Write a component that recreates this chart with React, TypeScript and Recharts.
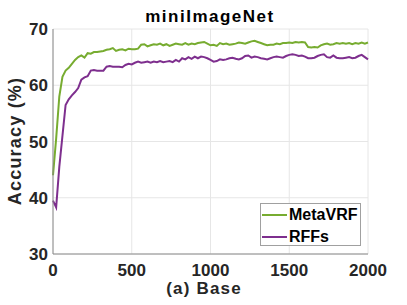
import React from 'react';
import { LineChart, Line, XAxis, YAxis, CartesianGrid } from 'recharts';

const iterations: number[] = [
  0, 20, 40, 60, 80, 100, 120, 140, 160, 180, 200, 220, 240, 260, 280, 300, 320, 340, 360, 380,
  400, 420, 440, 460, 480, 500, 520, 540, 560, 580, 600, 620, 640, 660, 680, 700, 720, 740, 760, 780,
  800, 820, 840, 860, 880, 900, 920, 940, 960, 980, 1000, 1020, 1040, 1060, 1080, 1100, 1120, 1140, 1160, 1180,
  1200, 1220, 1240, 1260, 1280, 1300, 1320, 1340, 1360, 1380, 1400, 1420, 1440, 1460, 1480, 1500, 1520, 1540, 1560, 1580,
  1600, 1620, 1640, 1660, 1680, 1700, 1720, 1740, 1760, 1780, 1800, 1820, 1840, 1860, 1880, 1900, 1920, 1940, 1960, 1980, 2000,
];

const metaVRF: number[] = [
  44.0, 50.5, 58.0, 61.5, 62.6, 63.1, 63.8, 64.5, 65.0, 65.3, 64.9, 65.7, 65.6, 65.9, 65.9, 66.0, 66.1, 66.3, 66.4, 66.6,
  66.1, 66.3, 66.4, 66.2, 66.5, 66.4, 66.4, 66.5, 67.2, 67.3, 66.9, 67.1, 67.3, 67.2, 67.4, 67.1, 67.3, 67.0, 67.2, 67.4,
  67.3, 67.2, 67.5, 67.2, 67.4, 67.3, 67.5, 67.6, 67.7, 67.4, 67.1, 67.2, 67.0, 67.5, 67.3, 67.4, 67.2, 67.3, 67.4, 67.6,
  67.5, 67.4, 67.6, 67.8, 67.9, 67.7, 67.5, 67.3, 67.1, 67.2, 67.2, 67.4, 67.3, 67.5, 67.5, 67.6, 67.5, 67.7, 67.6, 67.7,
  67.6, 66.8, 66.7, 66.8, 66.7, 67.1, 67.3, 67.4, 67.2, 67.3, 67.5, 67.4, 67.5, 67.4, 67.5, 67.3, 67.5, 67.4, 67.6, 67.4, 67.6,
];

const rffs: number[] = [
  39.5, 38.3, 45.5, 51.0, 56.5, 57.5, 58.2, 58.8, 59.5, 61.0, 61.4, 61.6, 62.6, 62.7, 62.6, 62.6, 62.6, 63.3, 63.4, 63.3,
  63.3, 63.3, 63.2, 63.6, 63.8, 63.7, 64.0, 64.2, 64.0, 64.1, 64.2, 64.0, 64.2, 64.1, 64.3, 64.1, 64.2, 64.3, 64.1, 64.5,
  64.2, 64.8, 64.6, 65.0, 64.7, 65.1, 64.8, 65.1, 65.0, 64.8, 64.5, 64.2, 64.3, 64.6, 64.5, 64.6, 64.8, 64.9, 64.7, 64.6,
  64.8, 65.2, 65.3, 64.9, 65.1, 65.0, 64.8, 64.7, 64.6, 64.8, 65.0, 65.1, 65.0, 64.9, 65.2, 65.4, 65.5, 65.4, 65.2, 65.3,
  65.1, 64.8, 64.8, 64.9, 65.2, 65.4, 65.5, 65.0, 64.9, 65.3, 64.9, 64.8, 64.8, 64.9, 65.0, 64.8, 64.9, 65.2, 65.4, 65.0, 64.6,
];

const xTicks: number[] = [0, 500, 1000, 1500, 2000];
const yTicks: number[] = [30, 40, 50, 60, 70];
const seriesNames: string[] = ['MetaVRF', 'RFFs'];
const title = 'miniImageNet';
const xLabel = '(a) Base';
const yLabel = 'Accuracy (%)';

const GREEN = '#77AC30';
const PURPLE = '#7E2F8E';
const FONT = '"Liberation Sans", Arial, Helvetica, sans-serif';

const data = iterations.map((it, i) => ({ it, metaVRF: metaVRF[i], rffs: rffs[i] }));

const LegendBox = () => (
  <div
    style={{
      position: 'absolute',
      left: 260,
      top: 203,
      width: 99,
      height: 41,
      background: '#fff',
      border: '1px solid #a0a0a0',
      fontFamily: FONT,
      fontWeight: 'bold',
      fontSize: 16,
      color: '#000',
    }}
  >
    {[GREEN, PURPLE].map((c, i) => (
      <div key={i} style={{ position: 'absolute', left: 1, top: i === 0 ? 2 : 24, height: 18, display: 'flex', alignItems: 'center' }}>
        <div style={{ width: 25, height: 2, background: c }} />
        <span style={{ marginLeft: 2, lineHeight: '18px', whiteSpace: 'nowrap' }}>{seriesNames[i]}</span>
      </div>
    ))}
  </div>
);

export default function App() {
  return (
    <div style={{ position: 'absolute', left: 0, top: 0, width: 407, height: 305, background: '#fff' }}>
      <LineChart width={407} height={305} data={data} margin={{ top: 29, right: 39, bottom: 0, left: 0 }}>
        <CartesianGrid stroke="#e6e6e6" strokeWidth={1} />
        <XAxis
          dataKey="it"
          type="number"
          domain={[0, 2000]}
          ticks={xTicks}
          tickLine={false}
          tickSize={0}
          axisLine={{ stroke: '#8a8a8a' }}
          tick={{ fill: '#262626', fontSize: 17, fontWeight: 'bold', fontFamily: FONT }}
          tickMargin={10}
          height={51}
          interval={0}
        />
        <XAxis xAxisId="top" orientation="top" dataKey="it" type="number" domain={[0, 2000]} tick={false} tickLine={false} height={0} axisLine={{ stroke: '#8a8a8a' }} />
        <YAxis
          type="number"
          domain={[30, 70]}
          ticks={yTicks}
          tickLine={false}
          tickSize={0}
          axisLine={{ stroke: '#8a8a8a' }}
          tick={{ fill: '#262626', fontSize: 17, fontWeight: 'bold', fontFamily: FONT }}
          tickMargin={5}
          width={53}
          interval={0}
        />
        <YAxis yAxisId="right" orientation="right" domain={[30, 70]} tick={false} tickLine={false} width={0} axisLine={{ stroke: '#8a8a8a' }} />
        <Line dataKey="metaVRF" name={seriesNames[0]} stroke={GREEN} strokeWidth={2} dot={false} isAnimationActive={false} />
        <Line dataKey="rffs" name={seriesNames[1]} stroke={PURPLE} strokeWidth={2} dot={false} isAnimationActive={false} />
        <text x={210} y={21.5} textAnchor="middle" fontFamily={FONT} fontWeight="bold" fontSize={17} letterSpacing={1.5} fill="#000">
          {title}
        </text>
        <text x={204} y={294} textAnchor="middle" fontFamily={FONT} fontWeight="bold" fontSize={17} letterSpacing={1.2} fill="#262626">
          {xLabel}
        </text>
        <text
          x={21}
          y={141}
          transform="rotate(-90 21 141)"
          textAnchor="middle"
          fontFamily={FONT}
          fontWeight="bold"
          fontSize={18}
          letterSpacing={1.2}
          fill="#262626"
        >
          {yLabel}
        </text>
      </LineChart>
      <LegendBox />
    </div>
  );
}
